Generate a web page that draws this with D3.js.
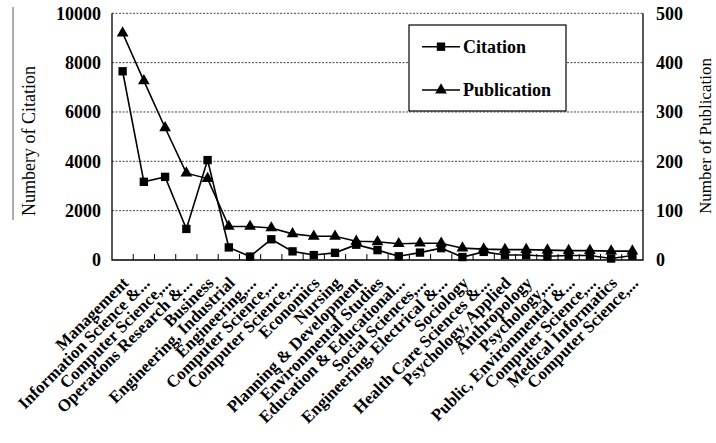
<!DOCTYPE html>
<html><head><meta charset="utf-8">
<script src="https://d3js.org/d3.v7.min.js"></script>
<style>
body{margin:0;background:#fff;}
svg{display:block;font-family:"Liberation Serif","Times New Roman",serif;}
</style></head>
<body><svg id="c" width="716" height="443"></svg>
<script>
const categories = ["Management","Information Science &...","Computer Science,...","Operations Research &...","Business","Engineering, Industrial","Engineering,...","Computer Science,...","Computer Science,...","Economics","Nursing","Planning & Development","Environmental Studies","Education & Educational...","Social Sciences,...","Engineering, Electrical &...","Sociology","Health Care Sciences &...","Psychology, Applied","Anthropology","Psychology,...","Public, Environmental &...","Computer Science,...","Medical Informatics","Computer Science,..."];
const citation = [7650,3170,3370,1260,4050,510,140,840,350,200,290,620,400,150,300,480,120,330,200,200,150,180,180,60,180];
const publication = [460,363,268,176,165,68,68,65,53,48,48,38,37,33,34,34,24,22,21,21,20,19,19,18,18];
const leftTicks = [0,2000,4000,6000,8000,10000];
const rightTicks = [0,100,200,300,400,500];
const seriesNames = ["Citation","Publication"];

const svg = d3.select("#c");
const L=112, R=643, T=13.3, B=260;
const idx = categories.map((d,i)=>i);
const x = d3.scaleBand().domain(idx).range([L,R]);
const yL = d3.scaleLinear().domain([0,10000]).range([B,T]);
const yR = d3.scaleLinear().domain([0,500]).range([B,T]);
const cx = i => x(i)+x.bandwidth()/2;

// gridlines (dashed, including top)
svg.append("g").selectAll("line").data(leftTicks.filter(v=>v>0)).join("line")
  .attr("x1",L).attr("x2",R).attr("y1",d=>yL(d)).attr("y2",d=>yL(d))
  .attr("stroke","#444").attr("stroke-width",1).attr("stroke-dasharray","2,1.5");

// frame (left, bottom, right solid)
svg.append("path").attr("d",`M${L},${T}V${B}H${R}V${T}`).attr("fill","none").attr("stroke","#000").attr("stroke-width",1.3);

// x ticks (inside)
svg.append("g").selectAll("line").data(idx.slice(1)).join("line")
  .attr("x1",d=>x(d)).attr("x2",d=>x(d)).attr("y1",B).attr("y2",B-6)
  .attr("stroke","#000").attr("stroke-width",1);

// left axis labels
svg.append("g").selectAll("text").data(leftTicks).join("text")
  .attr("x",101).attr("y",d=>yL(d)).attr("dy","0.35em").attr("text-anchor","end")
  .attr("font-weight","bold").attr("font-size",18).text(d=>d);
// right axis labels
svg.append("g").selectAll("text").data(rightTicks).join("text")
  .attr("x",656).attr("y",d=>yR(d)).attr("dy","0.35em").attr("text-anchor","start")
  .attr("font-weight","bold").attr("font-size",18).text(d=>d);

// axis titles
svg.append("line").attr("x1",13).attr("x2",13).attr("y1",7).attr("y2",220).attr("stroke","#777").attr("stroke-width",1.2);
svg.append("text").attr("transform","translate(35,141) rotate(-90)").attr("text-anchor","middle")
  .attr("font-size",18).text("Numbery of Citation");
svg.append("text").attr("transform","translate(711,136) rotate(-90)").attr("text-anchor","middle")
  .attr("font-size",17).text("Number of Publication");

// x labels
svg.append("g").selectAll("text").data(idx).join("text")
  .attr("transform",d=>`translate(${cx(d)+7},${B+24}) rotate(-45)`)
  .attr("text-anchor","end").attr("font-weight","bold").attr("font-size",17)
  .text(d=>categories[d]);

// lines
const lineC = d3.line().x((d,i)=>cx(i)).y(d=>yL(d));
const lineP = d3.line().x((d,i)=>cx(i)).y(d=>yR(d));
svg.append("path").attr("d",lineC(citation)).attr("fill","none").attr("stroke","#000").attr("stroke-width",1.6);
svg.append("path").attr("d",lineP(publication)).attr("fill","none").attr("stroke","#000").attr("stroke-width",1.6);
const sq = d3.symbol().type(d3.symbolSquare).size(70);
const tri = d3.symbol().type(d3.symbolTriangle).size(60);
svg.append("g").selectAll("path").data(citation).join("path")
  .attr("transform",(d,i)=>`translate(${cx(i)},${yL(d)})`).attr("d",sq).attr("fill","#000");
svg.append("g").selectAll("path").data(publication).join("path")
  .attr("transform",(d,i)=>`translate(${cx(i)},${yR(d)})`).attr("d",tri).attr("fill","#000");

// legend
const lg = svg.append("g");
lg.append("rect").attr("x",409).attr("y",25).attr("width",157).attr("height",86).attr("fill","#fff").attr("stroke","#000").attr("stroke-width",1.2);
const ly = [46.7, 90];
seriesNames.forEach((n,k)=>{
  lg.append("line").attr("x1",422).attr("x2",460).attr("y1",ly[k]).attr("y2",ly[k]).attr("stroke","#000").attr("stroke-width",1.6);
  lg.append("path").attr("transform",`translate(441,${ly[k]})`).attr("d",k?tri:sq).attr("fill","#000");
  lg.append("text").attr("x",463).attr("y",ly[k]).attr("dy","0.35em").attr("font-weight","bold").attr("font-size",18).text(n);
});
</script></body></html>
